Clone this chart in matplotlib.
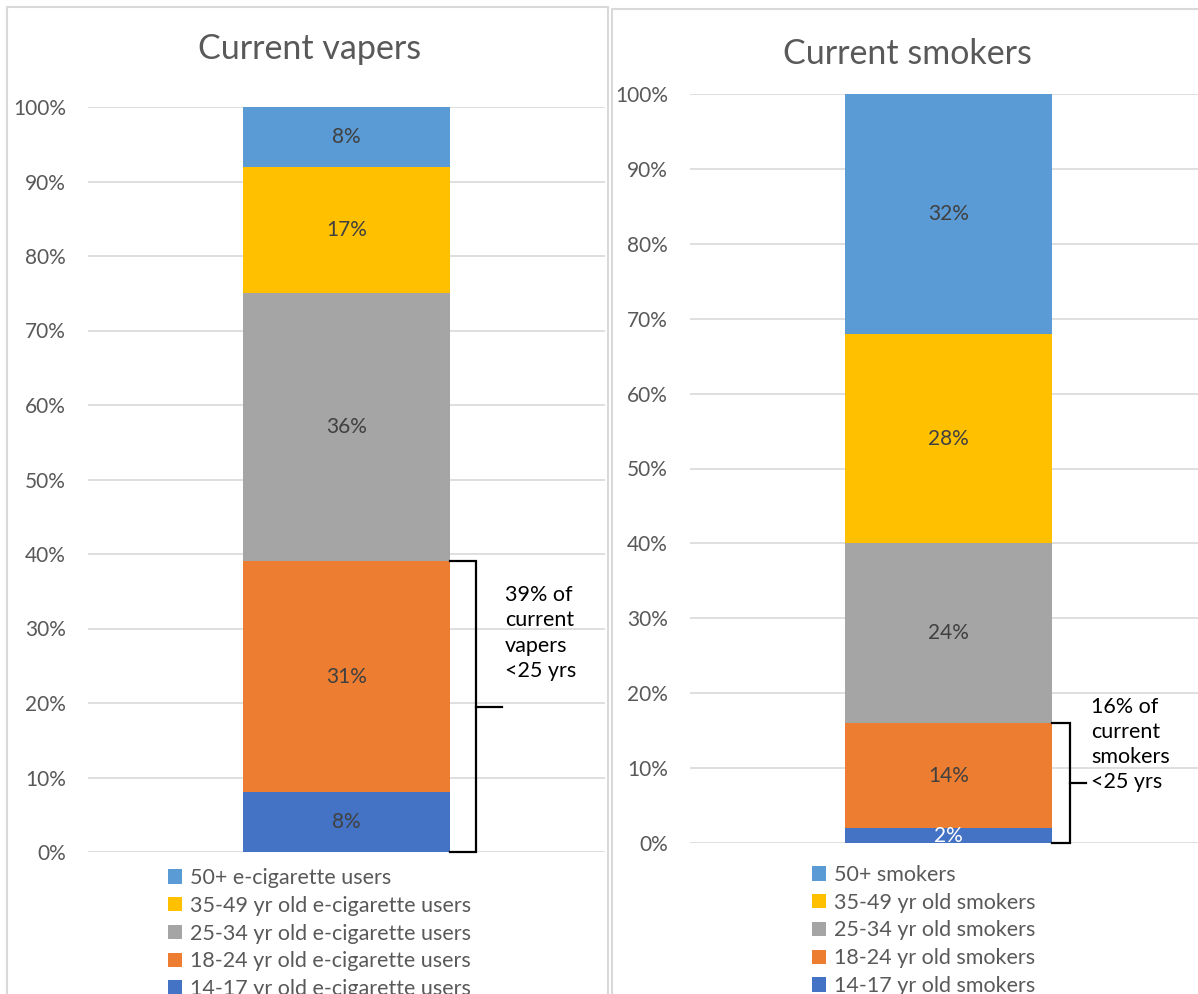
import numpy as np
import matplotlib.pyplot as plt
from matplotlib.patches import Rectangle, Patch
from matplotlib.transforms import blended_transform_factory

plt.rcParams['font.family'] = ['Lato', 'DejaVu Sans']

# data (bottom to top)
vape_labels = ['14-17 yr old e-cigarette users', '18-24 yr old e-cigarette users',
               '25-34 yr old e-cigarette users', '35-49 yr old e-cigarette users',
               '50+ e-cigarette users']
vape_vals = [8, 31, 36, 17, 8]
smoke_labels = ['14-17 yr old smokers', '18-24 yr old smokers', '25-34 yr old smokers',
                '35-49 yr old smokers', '50+ smokers']
smoke_vals = [2, 14, 24, 28, 32]
colors = ['#4472C4', '#ED7D31', '#A5A5A5', '#FFC000', '#5B9BD5']
label_colors = ['#404040', '#404040', '#404040', '#404040', '#404040']
smoke_label_colors = ['white', '#404040', '#404040', '#404040', '#404040']
yticks = np.arange(0, 101, 10)

W, H = 1198, 994
fig = plt.figure(figsize=(W / 100, H / 100), dpi=100)


def px_axes(x0, x1, ytop, ybot):
    return fig.add_axes([x0 / W, 1 - ybot / H, (x1 - x0) / W, (ybot - ytop) / H])


def panel(x0, y0, x1, y1):
    fig.patches.append(Rectangle((x0 / W, 1 - y1 / H), (x1 - x0) / W, (y1 - y0) / H,
                                 transform=fig.transFigure, fill=False,
                                 edgecolor='#D9D9D9', lw=1.5))


def draw(ax, vals, lab_cols, title, title_xy):
    bottom = 0
    for v, c, lc in zip(vals, colors, lab_cols):
        ax.bar(0, v, width=0.4, bottom=bottom, color=c)
        ax.text(0, bottom + v / 2, f'{v}%', ha='center', va='center',
                fontsize=15, color=lc)
        bottom += v
    ax.set_xlim(-0.5, 0.5)
    ax.set_ylim(0, 100)
    ax.set_yticks(yticks)
    ax.set_yticklabels([f'{t}%' for t in yticks])
    ax.set_xticks([])
    ax.tick_params(axis='y', length=0, pad=16, labelsize=15, labelcolor='#595959')
    ax.grid(axis='y', color='#D9D9D9', lw=1.2)
    ax.set_axisbelow(True)
    for s in ax.spines.values():
        s.set_visible(False)
    fig.text(title_xy[0] / W, 1 - title_xy[1] / H, title, ha='center', va='center',
             fontsize=24.5, color='#595959')


def bracket(ax, top, xv, xt, xtext, ytext, text):
    tr = blended_transform_factory(ax.transAxes, ax.transData)
    ax.plot([0.7, xv, xv, 0.7], [top, top, 0, 0], color='black', lw=1.6,
            transform=tr, clip_on=False, solid_joinstyle='miter')
    ax.plot([xv, xt], [top / 2, top / 2], color='black', lw=1.6,
            transform=tr, clip_on=False)
    ax.text(xtext, ytext, text, transform=tr, ha='left', va='top',
            fontsize=15.5, color='black', linespacing=1.32)


panel(7, 7, 608, 1000)
panel(612, 9, 1205, 1000)

ax1 = px_axes(88, 605, 107, 852)
draw(ax1, vape_vals, label_colors, 'Current vapers', (310, 49))
bracket(ax1, sum(vape_vals[:2]), 0.750, 0.80, 0.807, 35.8,
        '39% of\ncurrent\nvapers\n<25 yrs')

ax2 = px_axes(690, 1207, 94, 843)
draw(ax2, smoke_vals, smoke_label_colors, 'Current smokers', (907, 54))
bracket(ax2, sum(smoke_vals[:2]), 0.735, 0.766, 0.776, 19.5,
        '16% of\ncurrent\nsmokers\n<25 yrs')

for ax, labels, x, y in [(ax1, vape_labels, 168, 868), (ax2, smoke_labels, 812, 865)]:
    handles = [Patch(facecolor=c, edgecolor='none') for c in colors][::-1]
    fig.legend(handles, labels[::-1], loc='upper left',
               bbox_to_anchor=(x / W, 1 - y / H), frameon=False,
               fontsize=15.5, labelcolor='#595959', handlelength=0.65,
               handleheight=0.65, handletextpad=0.35, labelspacing=0.36,
               borderpad=0, borderaxespad=0)

fig.savefig('out.png', dpi=100)
